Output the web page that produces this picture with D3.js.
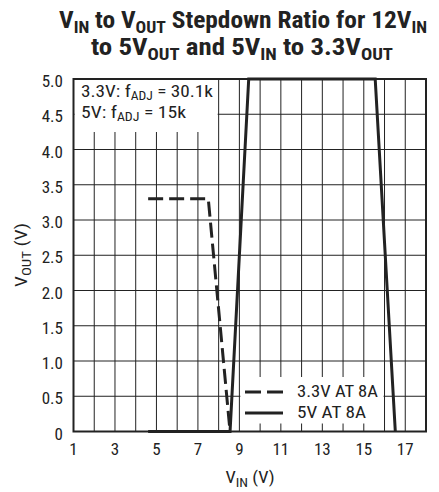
<html>
<head>
<script src='https://d3js.org/d3.v7.min.js'></script>
<style>
  body { margin: 0; background: white; }
  text { font-family: 'Liberation Sans Narrow', 'Roboto Condensed', 'Liberation Sans', sans-serif; fill: #222; }
  .title { font-weight: bold; font-size: 23px; }
</style>
</head>
<body>
<svg id="chart" width="439" height="492"></svg>
<script>
// values
const vin5 = [4.6, 8.55, 9.45, 15.55, 16.52];
const vout5 = [0, 0, 5, 5, 0];
const vin33 = [4.6, 7.5, 8.55];
const vout33 = [3.3, 3.3, 0];
const xTicks = [1, 3, 5, 7, 9, 11, 13, 15, 17];
const xGrid = d3.range(1, 19);
const yTicks = [0, 0.5, 1, 1.5, 2, 2.5, 3, 3.5, 4, 4.5, 5];
const legendNames = ['3.3V AT 8A', '5V AT 8A'];

const svg = d3.select('#chart');
const x = d3.scaleLinear().domain([1, 18]).range([73.5, 426]);
const y = d3.scaleLinear().domain([0, 5]).range([431.5, 79]);

// text with subscripts: parts like [['V'], ['IN', 1], [' (V)']]
function addSub(t, parts, small, shift) {
  let back = 0;
  parts.forEach(p => {
    const s = t.append('tspan').text(p[0]);
    if (p[1]) {
      s.attr('dy', shift - back).style('font-size', small + 'px');
      back = shift;
    } else if (back) {
      s.attr('dy', -back);
      back = 0;
    }
  });
}
const t1 = svg.append('text').attr('class', 'title').attr('x', 243).attr('y', 28)
  .attr('text-anchor', 'middle').attr('textLength', 368).attr('lengthAdjust', 'spacingAndGlyphs');
addSub(t1, [['V'], ['IN', 1], [' to V'], ['OUT', 1], [' Stepdown Ratio for 12V'], ['IN', 1]], 16, 5);
const t2 = svg.append('text').attr('class', 'title').attr('x', 242).attr('y', 55)
  .attr('text-anchor', 'middle').attr('textLength', 302).attr('lengthAdjust', 'spacingAndGlyphs');
addSub(t2, [['to 5V'], ['OUT', 1], [' and 5V'], ['IN', 1], [' to 3.3V'], ['OUT', 1]], 16, 5);

// grid
const g = svg.append('g');
g.selectAll('.vg').data(xGrid).enter().append('line')
  .attr('x1', d => x(d)).attr('x2', d => x(d))
  .attr('y1', y(0)).attr('y2', y(5))
  .attr('stroke', '#222').attr('stroke-width', 1);
g.selectAll('.hg').data(yTicks).enter().append('line')
  .attr('x1', x(1)).attr('x2', x(18))
  .attr('y1', d => y(d)).attr('y2', d => y(d))
  .attr('stroke', '#222').attr('stroke-width', 1);

// white boxes behind the notes
svg.append('rect').attr('x', x(1) + 1).attr('y', y(5) + 1)
  .attr('width', x(8) - x(1) - 2).attr('height', 52).attr('fill', 'white');
svg.append('rect').attr('x', x(9) + 1).attr('y', 377)
  .attr('width', x(16) - x(9) - 2).attr('height', y(0) - 377 - 8).attr('fill', 'white');

// lines
const line = d3.line().x(d => x(d[0])).y(d => y(d[1]));
svg.append('path').datum(d3.zip(vin33, vout33)).attr('d', line)
  .attr('fill', 'none').attr('stroke', '#222').attr('stroke-width', 3)
  .attr('stroke-dasharray', '15,6');
svg.append('path').datum(d3.zip(vin5, vout5)).attr('d', line)
  .attr('fill', 'none').attr('stroke', '#222').attr('stroke-width', 3);

// frame
svg.append('rect').attr('x', x(1)).attr('y', y(5))
  .attr('width', x(18) - x(1)).attr('height', y(0) - y(5))
  .attr('fill', 'none').attr('stroke', '#222').attr('stroke-width', 2);

// axes labels
svg.selectAll('.xl').data(xTicks).enter().append('text')
  .attr('x', d => x(d)).attr('y', 455).attr('text-anchor', 'middle')
  .style('font-size', '17px').text(d => d);
svg.selectAll('.yl').data(yTicks).enter().append('text')
  .attr('x', 63).attr('y', d => y(d) + 8).attr('text-anchor', 'end')
  .style('font-size', '17px').text(d => d === 0 ? '0' : d3.format('.1f')(d));

const xt = svg.append('text').attr('x', 250).attr('y', 483).attr('text-anchor', 'middle')
  .style('font-size', '17px').attr('textLength', 49).attr('lengthAdjust', 'spacingAndGlyphs');
addSub(xt, [['V'], ['IN', 1], [' (V)']], 13, 4);
const yt = svg.append('text').attr('transform', 'translate(27,255) rotate(-90)').attr('text-anchor', 'middle')
  .style('font-size', '17px').attr('textLength', 64).attr('lengthAdjust', 'spacingAndGlyphs');
addSub(yt, [['V'], ['OUT', 1], [' (V)']], 13, 4);

// notes
const n1 = svg.append('text').attr('x', 81).attr('y', 97).style('font-size', '17px')
  .attr('textLength', 132).attr('lengthAdjust', 'spacingAndGlyphs');
addSub(n1, [['3.3V: f'], ['ADJ', 1], [' = 30.1k']], 12, 3);
const n2 = svg.append('text').attr('x', 81).attr('y', 118).style('font-size', '17px')
  .attr('textLength', 105).attr('lengthAdjust', 'spacingAndGlyphs');
addSub(n2, [['5V: f'], ['ADJ', 1], [' = 15k']], 12, 3);

// legend
const legWidths = [81, 69];
const leg = svg.append('g');
[0, 1].forEach(i => {
  const ly = 392 + i * 21;
  leg.append('line').attr('x1', 245).attr('x2', 283).attr('y1', ly).attr('y2', ly)
    .attr('stroke', '#222').attr('stroke-width', 3)
    .attr('stroke-dasharray', i === 0 ? '16,6' : null);
  leg.append('text').attr('x', 297).attr('y', ly + 5).style('font-size', '17px')
    .attr('textLength', legWidths[i]).attr('lengthAdjust', 'spacingAndGlyphs')
    .text(legendNames[i]);
});
</script>
</body>
</html>
